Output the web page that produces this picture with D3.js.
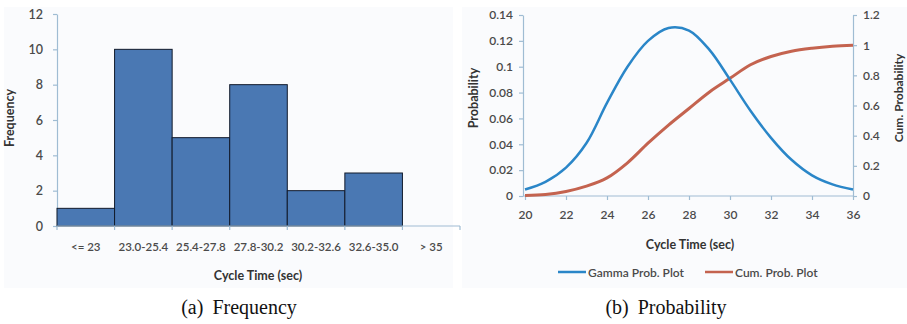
<!DOCTYPE html>
<html>
<head>
<meta charset="utf-8">
<script src="https://cdn.jsdelivr.net/npm/d3@7"></script>
<style>
  html, body { margin: 0; padding: 0; background: #ffffff; }
  svg { display: block; }
  text { font-family: Lato, "Open Sans", sans-serif; }
</style>
</head>
<body>
<svg id="chart" width="907" height="324"></svg>
<script>
// ---- Data: (a) Frequency histogram ----
const binLabels = ["<= 23", "23.0-25.4", "25.4-27.8", "27.8-30.2", "30.2-32.6", "32.6-35.0", "> 35"];
const binCounts = [1, 10, 5, 8, 2, 3, 0];
const freqTicks = [0, 2, 4, 6, 8, 10, 12];

// ---- Data: (b) Probability ----
const cycleTimes = [20, 21, 22, 23, 24, 25, 26, 27, 28, 29, 30, 31, 32, 33, 34, 35, 36];
const gammaProb  = [0.005, 0.011, 0.022, 0.041, 0.072, 0.100, 0.120, 0.130, 0.128, 0.113, 0.090, 0.066, 0.045, 0.028, 0.016, 0.009, 0.005];
const cumProb    = [0.003, 0.010, 0.030, 0.065, 0.120, 0.220, 0.350, 0.470, 0.580, 0.690, 0.780, 0.870, 0.925, 0.960, 0.980, 0.993, 1.000];
const probTicks  = [0, 0.02, 0.04, 0.06, 0.08, 0.1, 0.12, 0.14];
const cumTicks   = [0, 0.2, 0.4, 0.6, 0.8, 1, 1.2];
const timeTicks  = [20, 22, 24, 26, 28, 30, 32, 34, 36];

const svg = d3.select("#chart");
const axisColor = "#9fbcd3";
const labelColor = "#4a4a4a";
const tickFont = 12;

// panels
svg.append("rect").attr("x", 4).attr("y", 7).attr("width", 449).attr("height", 281).attr("fill", "#fafbfd");
svg.append("rect").attr("x", 462).attr("y", 7).attr("width", 445).attr("height", 281).attr("fill", "#fafbfd");

function styleAxis(g) {
  g.selectAll("path.domain").attr("stroke", axisColor).attr("stroke-width", 1.2);
  g.selectAll(".tick line").attr("stroke", axisColor).attr("stroke-width", 1.2);
  g.selectAll(".tick text").attr("fill", labelColor).attr("font-size", tickFont)
    .attr("font-family", "Lato, sans-serif").attr("font-weight", 600);
}

// ================= (a) Frequency =================
{
  const x = d3.scaleBand().domain(binLabels).range([57, 460]).padding(0);
  const y = d3.scaleLinear().domain([0, 12]).range([226, 14]);

  const gy = svg.append("g").attr("transform", "translate(57,0)")
    .call(d3.axisLeft(y).tickValues(freqTicks).tickSize(4).tickPadding(10).tickSizeOuter(0));
  styleAxis(gy);
  gy.selectAll(".tick text").attr("font-size", 12.5);

  svg.append("g").selectAll("rect").data(binLabels).join("rect")
    .attr("x", d => x(d))
    .attr("y", (d, i) => y(binCounts[i]))
    .attr("width", x.bandwidth())
    .attr("height", (d, i) => y(0) - y(binCounts[i]))
    .attr("fill", "#4a78b3")
    .attr("stroke", "#111a2a")
    .attr("stroke-width", 1);

  // x axis line + boundary ticks
  const gx = svg.append("g").attr("transform", "translate(0,226)");
  gx.append("line").attr("x1", 57).attr("x2", 460).attr("stroke", axisColor).attr("stroke-width", 1.2);
  const bounds = binLabels.map(d => x(d)).concat([x(binLabels[binLabels.length - 1]) + x.bandwidth()]);
  gx.selectAll("line.tk").data(bounds).join("line").attr("class", "tk")
    .attr("x1", d => d).attr("x2", d => d).attr("y1", 0).attr("y2", 4)
    .attr("stroke", axisColor).attr("stroke-width", 1.2);
  gx.selectAll("text").data(binLabels).join("text")
    .attr("x", d => x(d) + x.bandwidth() / 2).attr("y", 25)
    .attr("text-anchor", "middle").attr("fill", labelColor)
    .attr("font-size", 11.5).attr("font-weight", 600).text(d => d);

  svg.append("text").attr("x", 258).attr("y", 280).attr("text-anchor", "middle")
    .attr("font-size", 12.5).attr("font-weight", 700).attr("fill", "#333").text("Cycle Time (sec)");
  svg.append("text").attr("transform", "translate(14,118) rotate(-90)").attr("text-anchor", "middle")
    .attr("font-size", 12.5).attr("font-weight", 700).attr("fill", "#333").text("Frequency");

  svg.append("text").attr("x", 239).attr("y", 314).attr("text-anchor", "middle")
    .style("font-family", "'Liberation Serif', 'DejaVu Serif', serif").attr("font-size", 20)
    .attr("word-spacing", 4).attr("fill", "#111").text("(a) Frequency");
}

// ================= (b) Probability =================
{
  const x = d3.scaleLinear().domain([20, 36]).range([525, 853]);
  const yL = d3.scaleLinear().domain([0, 0.14]).range([196, 15]);
  const yR = d3.scaleLinear().domain([0, 1.2]).range([196, 15]);

  const gl = svg.append("g").attr("transform", "translate(523,0)")
    .call(d3.axisLeft(yL).tickValues(probTicks).tickSize(4).tickPadding(6).tickSizeOuter(0)
      .tickFormat(d => String(+d.toFixed(2))));
  styleAxis(gl);

  const gr = svg.append("g").attr("transform", "translate(853,0)")
    .call(d3.axisRight(yR).tickValues(cumTicks).tickSize(4).tickPadding(6).tickSizeOuter(0)
      .tickFormat(d => String(+d.toFixed(1))));
  styleAxis(gr);

  const gx = svg.append("g").attr("transform", "translate(0,196)")
    .call(d3.axisBottom(x).tickValues(timeTicks).tickSize(4).tickPadding(10).tickSizeOuter(0));
  gx.select("path.domain").attr("d", "M523,0H853");
  styleAxis(gx);

  const lineG = d3.line().x((d, i) => x(cycleTimes[i])).y(d => yL(d)).curve(d3.curveCatmullRom.alpha(0.5));
  const lineC = d3.line().x((d, i) => x(cycleTimes[i])).y(d => yR(d)).curve(d3.curveCatmullRom.alpha(0.5));

  svg.append("path").datum(cumProb).attr("d", lineC).attr("fill", "none")
    .attr("stroke", "#c4634f").attr("stroke-width", 3);
  svg.append("path").datum(gammaProb).attr("d", lineG).attr("fill", "none")
    .attr("stroke", "#2a86c8").attr("stroke-width", 2.5);

  svg.append("text").attr("x", 690).attr("y", 249).attr("text-anchor", "middle")
    .attr("font-size", 12.5).attr("font-weight", 700).attr("fill", "#333").text("Cycle Time (sec)");
  svg.append("text").attr("transform", "translate(478,98) rotate(-90)").attr("text-anchor", "middle")
    .attr("font-size", 12.5).attr("font-weight", 700).attr("fill", "#333").text("Probability");
  svg.append("text").attr("transform", "translate(903,98) rotate(-90)").attr("text-anchor", "middle")
    .attr("font-size", 12).attr("font-weight", 700).attr("fill", "#333").text("Cum. Probability");

  // legend
  const legend = [
    { name: "Gamma Prob. Plot", color: "#2a86c8", x: 558 },
    { name: "Cum. Prob. Plot", color: "#c4634f", x: 705 }
  ];
  const lg = svg.append("g").selectAll("g").data(legend).join("g")
    .attr("transform", d => `translate(${d.x},272)`);
  lg.append("line").attr("x1", 0).attr("x2", 28).attr("stroke", d => d.color).attr("stroke-width", 2.5);
  lg.append("text").attr("x", 30).attr("y", 4.5).attr("font-size", 12).attr("font-weight", 600)
    .attr("fill", labelColor).text(d => d.name);

  svg.append("text").attr("x", 666).attr("y", 314).attr("text-anchor", "middle")
    .style("font-family", "'Liberation Serif', 'DejaVu Serif', serif").attr("font-size", 20)
    .attr("word-spacing", 4).attr("fill", "#111").text("(b) Probability");
}
</script>
</body>
</html>
